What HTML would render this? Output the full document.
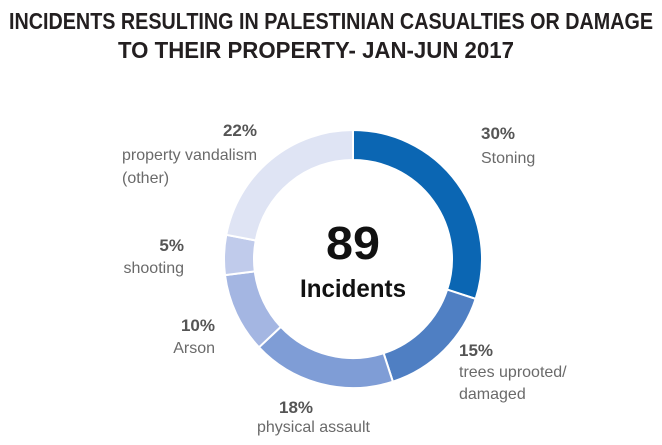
<!DOCTYPE html>
<html><head><meta charset="utf-8">
<style>
html,body{margin:0;padding:0;background:#fff;}
svg{display:block;font-family:"Liberation Sans",sans-serif;}
</style></head>
<body>
<svg id="chart" width="662" height="445" viewBox="0 0 662 445">
  <g font-weight="bold" fill="#231f20" font-size="23" text-anchor="middle">
    <text x="331" y="29" textLength="644" lengthAdjust="spacingAndGlyphs">INCIDENTS RESULTING IN PALESTINIAN CASUALTIES OR DAMAGE</text>
    <text x="316" y="58" textLength="396" lengthAdjust="spacingAndGlyphs">TO THEIR PROPERTY- JAN-JUN 2017</text>
  </g>
  <g id="slices"></g>
  <text x="353" y="259" text-anchor="middle" font-weight="bold" font-size="46" fill="#111" textLength="54" lengthAdjust="spacingAndGlyphs">89</text>
  <text x="353" y="297" text-anchor="middle" font-weight="bold" font-size="25" fill="#111" textLength="106" lengthAdjust="spacingAndGlyphs">Incidents</text>
  <g fill="#555" font-size="16">
    <g>
      <text x="481" y="139" font-weight="bold" font-size="17">30%</text>
      <text x="481" y="163" fill="#6a6a6a">Stoning</text>
    </g>
    <g>
      <text x="459" y="356" font-weight="bold" font-size="17">15%</text>
      <text x="459" y="377" fill="#6a6a6a">trees uprooted/</text>
      <text x="459" y="399" fill="#6a6a6a">damaged</text>
    </g>
    <g>
      <text x="279" y="413" font-weight="bold" font-size="17">18%</text>
      <text x="257" y="432" fill="#6a6a6a">physical assault</text>
    </g>
    <g text-anchor="end">
      <text x="215" y="331" font-weight="bold" font-size="17">10%</text>
      <text x="215" y="353" fill="#6a6a6a">Arson</text>
    </g>
    <g text-anchor="end">
      <text x="184" y="251" font-weight="bold" font-size="17">5%</text>
      <text x="184" y="273" fill="#6a6a6a">shooting</text>
    </g>
    <g>
      <text x="257" y="136" font-weight="bold" font-size="17" text-anchor="end">22%</text>
      <text x="122" y="160" fill="#6a6a6a" textLength="135" lengthAdjust="spacingAndGlyphs">property vandalism</text>
      <text x="122" y="183" fill="#6a6a6a">(other)</text>
    </g>
  </g>
</svg>
<script>
const categories = ["Stoning","trees uprooted/damaged","physical assault","Arson","shooting","property vandalism (other)"];
const values = [30,15,18,10,5,22];
const colors = ["#0b66b3","#4f7fc3","#7f9dd6","#a4b6e2","#c0cbeb","#dfe4f4"];
const cx=353, cy=259, R=129, r=99;
const g=document.getElementById('slices');
const total=values.reduce((a,b)=>a+b,0);
function pt(rad,a){return [cx+rad*Math.sin(a), cy-rad*Math.cos(a)];}
let acc=0;
values.forEach((v,i)=>{
  const a0=acc/total*2*Math.PI, a1=(acc+v)/total*2*Math.PI; acc+=v;
  const large=(a1-a0)>Math.PI?1:0;
  const p0=pt(R,a0),p1=pt(R,a1),q1=pt(r,a1),q0=pt(r,a0);
  const p=document.createElementNS('http://www.w3.org/2000/svg','path');
  p.setAttribute('d',`M${p0[0]},${p0[1]} A${R},${R} 0 ${large} 1 ${p1[0]},${p1[1]} L${q1[0]},${q1[1]} A${r},${r} 0 ${large} 0 ${q0[0]},${q0[1]} Z`);
  p.setAttribute('fill',colors[i]);
  p.setAttribute('stroke','#fff');
  p.setAttribute('stroke-width','2');
  
  
  g.appendChild(p);
});
</script>
</body></html>
